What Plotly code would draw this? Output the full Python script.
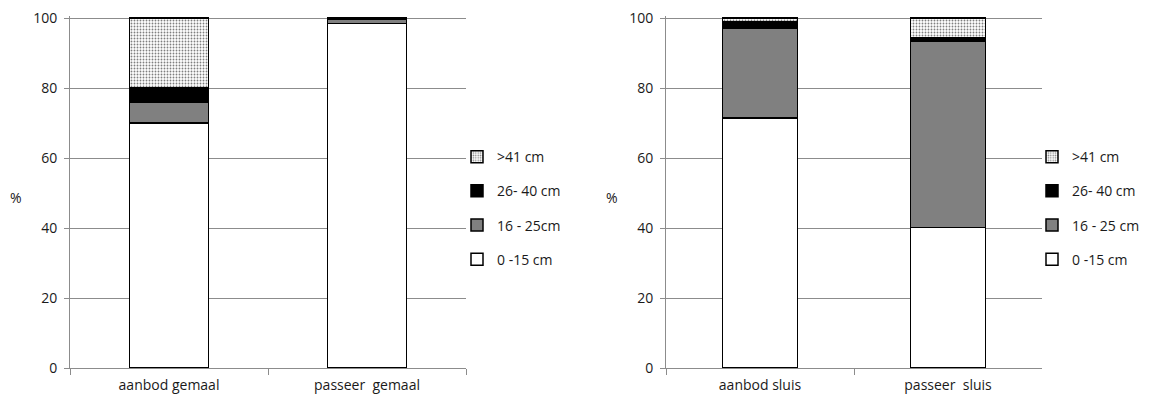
import plotly.graph_objects as go

# ---- data ----
cats_left = ["aanbod gemaal", "passeer\u00a0\u00a0gemaal"]
cats_right = ["aanbod sluis", "passeer\u00a0\u00a0sluis"]

names_left = ["0 -15 cm", "16 - 25cm", "26- 40 cm", ">41 cm"]
names_right = ["0 -15 cm", "16 - 25 cm", "26- 40 cm", ">41 cm"]

left_0_15 = [70.0, 98.5]
left_16_25 = [6.0, 1.1]
left_26_40 = [4.0, 0.2]
left_41 = [20.0, 0.2]

right_0_15 = [71.5, 40.2]
right_16_25 = [25.5, 53.1]
right_26_40 = [1.9, 1.0]
right_41 = [1.1, 5.7]

yticks = [0, 20, 40, 60, 80, 100]

# ---- styles ----
fills = ["#ffffff", "#808080", "#000000", "#ffffff"]
patterns = [None, None, None, dict(shape=".", fgcolor="#000000", bgcolor="#ffffff", size=3, solidity=0.3)]
FONT = "Open Sans"
TXT = "#1a1a1a"
GRAY = "#8c8c8c"

fig = go.Figure()

def add_panel(cats, names, series, xa, ya, legend):
    for i, (nm, vals) in enumerate(zip(names, series)):
        marker = dict(color=fills[i], line=dict(color="#000000", width=1.5))
        if patterns[i] is not None:
            marker["pattern"] = patterns[i]
        fig.add_trace(go.Bar(
            x=cats, y=vals, name=nm, marker=marker,
            xaxis=xa, yaxis=ya, legend=legend, legendgroup=legend + str(i),
            legendrank=100 - i,
        ))

add_panel(cats_left, names_left, [left_0_15, left_16_25, left_26_40, left_41], "x", "y", "legend")
add_panel(cats_right, names_right, [right_0_15, right_16_25, right_26_40, right_41], "x2", "y2", "legend2")

W, H = 1144, 395
YMAX = 100.6
top_px = 10 - (YMAX - 100) * 3.5
axis_common_x = dict(showline=True, linecolor=GRAY, linewidth=1, ticks="outside", ticklen=6,
                     tickcolor=GRAY, tickson="boundaries", showgrid=False, ticklabelstandoff=4,
                     tickfont=dict(family=FONT, size=14, color=TXT), fixedrange=True)
axis_common_y = dict(range=[0, YMAX], tickvals=yticks, showline=True, linecolor=GRAY, linewidth=1,
                     ticks="outside", ticklen=5, tickcolor=GRAY, showgrid=True, gridcolor=GRAY,
                     gridwidth=1, zeroline=False, ticklabelstandoff=4, ticklabeloverflow="allow",
                     tickfont=dict(family=FONT, size=14, color=TXT))

legend_common = dict(font=dict(family=FONT, size=14, color=TXT), traceorder="grouped",
                     tracegroupgap=13, bgcolor="rgba(0,0,0,0)", yanchor="middle", xanchor="left",
                     itemwidth=30)

plot_h = H - top_px - 35
leg_y = (360 - 200) / plot_h
pct_y = (360 - 189) / plot_h

fig.update_layout(
    width=W, height=H,
    margin=dict(l=0, r=0, t=top_px, b=35),
    paper_bgcolor="white", plot_bgcolor="white",
    barmode="stack", bargap=0.6,
    xaxis=dict(domain=[62 / W, 458 / W], anchor="y", **axis_common_x),
    yaxis=dict(anchor="x", **axis_common_y),
    xaxis2=dict(domain=[658 / W, 1034 / W], anchor="y2", **axis_common_x),
    yaxis2=dict(anchor="x2", **axis_common_y),
    legend=dict(x=449 / W, y=leg_y, **legend_common),
    legend2=dict(x=1024 / W, y=leg_y, **legend_common),
    annotations=[
        dict(text="%", x=7.5 / W, y=pct_y, xref="paper", yref="paper", showarrow=False,
             xanchor="center", yanchor="middle", font=dict(family=FONT, size=14, color=TXT)),
        dict(text="%", x=604 / W, y=pct_y, xref="paper", yref="paper", showarrow=False,
             xanchor="center", yanchor="middle", font=dict(family=FONT, size=14, color=TXT)),
    ],
    showlegend=True,
)

fig.write_html("out.html")
